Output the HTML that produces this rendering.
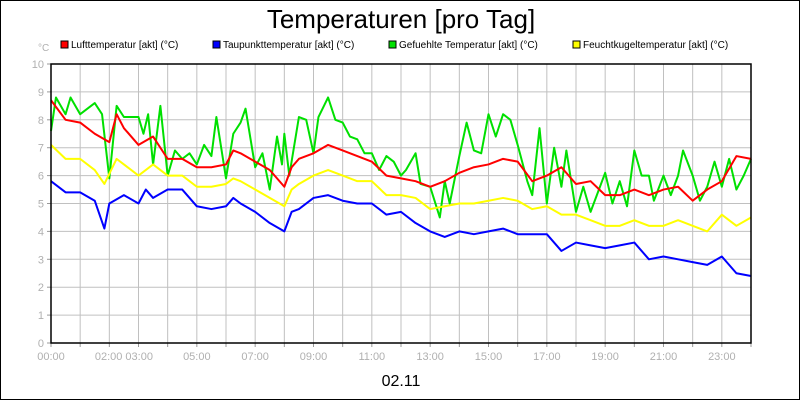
<!DOCTYPE html>
<html><head><meta charset="utf-8"><style>
html,body{margin:0;padding:0;background:#fff}
#wrap{position:relative;width:800px;height:400px;box-sizing:border-box;border:1px solid #000;background:#fff;overflow:hidden}
svg{position:absolute;left:0;top:0}
text{font-family:"Liberation Sans",sans-serif}
</style></head><body>
<div id="wrap">
<svg id="chart" width="800" height="400">
<text x="400" y="27" font-size="26" text-anchor="middle" fill="#000">Temperaturen [pro Tag]</text>
<text x="37" y="50" font-size="10" fill="#b0b0b0">°C</text>
<text x="400" y="385" font-size="16" text-anchor="middle" fill="#000">02.11</text>
<g id="grid"></g><g id="series"></g><g id="axes"></g><g id="legend"></g>
</svg>
</div>
<script>
const yTicks=[0,1,2,3,4,5,6,7,8,9,10];
const xTickLabels=["00:00","02:00 03:00","05:00","07:00","09:00","11:00","13:00","15:00","17:00","19:00","21:00","23:00"];
const xTickHours=[0,2.5,5,7,9,11,13,15,17,19,21,23];
const seriesNames=["Lufttemperatur [akt] (°C)","Taupunkttemperatur [akt] (°C)","Gefuehlte Temperatur [akt] (°C)","Feuchtkugeltemperatur [akt] (°C)"];
const redT=[0,0.5,1,1.5,2,2.25,2.5,3,3.5,4,4.5,5,5.5,6,6.25,6.5,7,7.5,8,8.25,8.5,9,9.5,10,10.5,11,11.5,12,12.5,13,13.5,14,14.5,15,15.5,16,16.5,17,17.5,18,18.5,19,19.5,20,20.5,21,21.5,22,22.5,23,23.5,24];
const redV=[8.7,8.0,7.9,7.5,7.2,8.2,7.7,7.1,7.4,6.6,6.6,6.3,6.3,6.4,6.9,6.8,6.5,6.2,5.6,6.3,6.6,6.8,7.1,6.9,6.7,6.5,6.0,5.9,5.8,5.6,5.8,6.1,6.3,6.4,6.6,6.5,5.8,6.0,6.3,5.7,5.8,5.3,5.3,5.5,5.3,5.5,5.6,5.1,5.5,5.8,6.7,6.6];
const blueT=[0,0.5,1,1.5,1.83,2,2.5,3,3.25,3.5,4,4.5,5,5.5,6,6.25,6.5,7,7.5,8,8.25,8.5,9,9.5,10,10.5,11,11.5,12,12.5,13,13.5,14,14.5,15,15.5,16,16.5,17,17.5,18,18.5,19,19.5,20,20.5,21,21.5,22,22.5,23,23.5,24];
const blueV=[5.8,5.4,5.4,5.1,4.1,5.0,5.3,5.0,5.5,5.2,5.5,5.5,4.9,4.8,4.9,5.2,5.0,4.7,4.3,4.0,4.7,4.8,5.2,5.3,5.1,5.0,5.0,4.6,4.7,4.3,4.0,3.8,4.0,3.9,4.0,4.1,3.9,3.9,3.9,3.3,3.6,3.5,3.4,3.5,3.6,3.0,3.1,3.0,2.9,2.8,3.1,2.5,2.4];
const greenT=[0,0.17,0.5,0.67,1,1.5,1.75,2,2.25,2.5,3,3.17,3.33,3.5,3.75,4,4.25,4.5,4.75,5,5.25,5.5,5.67,6,6.25,6.5,6.67,7,7.25,7.5,7.75,7.92,8,8.17,8.5,8.75,9,9.17,9.5,9.75,10,10.25,10.5,10.75,11,11.25,11.5,11.75,12,12.17,12.5,12.67,13,13.33,13.5,13.67,14,14.25,14.5,14.75,15,15.25,15.5,15.75,16,16.33,16.5,16.75,17,17.25,17.5,17.67,18,18.25,18.5,18.75,19,19.25,19.5,19.75,20,20.25,20.5,20.67,21,21.25,21.5,21.67,22,22.25,22.5,22.75,23,23.25,23.5,23.75,24];
const greenV=[7.6,8.8,8.2,8.8,8.2,8.6,8.2,5.9,8.5,8.1,8.1,7.5,8.2,6.4,8.5,6.0,6.9,6.6,6.8,6.4,7.1,6.7,8.1,5.9,7.5,7.9,8.4,6.3,6.8,5.5,7.4,6.4,7.5,6.0,8.1,8.0,6.8,8.1,8.8,8.0,7.9,7.4,7.3,6.8,6.8,6.2,6.7,6.5,6.0,6.2,6.8,5.7,5.6,4.5,5.8,5.0,6.7,7.9,6.9,6.8,8.2,7.4,8.2,8.0,7.1,5.8,5.3,7.7,5.0,7.0,5.6,6.9,4.7,5.6,4.7,5.4,6.1,5.0,5.8,4.9,6.9,6.0,6.0,5.1,6.0,5.3,6.0,6.9,6.0,5.1,5.6,6.5,5.6,6.6,5.5,6.0,6.6];
const yellowT=[0,0.5,1,1.5,1.83,2.25,2.5,3,3.5,4,4.5,5,5.5,6,6.25,6.5,7,7.5,8,8.25,8.5,9,9.5,10,10.5,11,11.5,12,12.5,13,13.5,14,14.5,15,15.5,16,16.5,17,17.5,18,18.5,19,19.5,20,20.5,21,21.5,22,22.5,23,23.5,24];
const yellowV=[7.1,6.6,6.6,6.2,5.7,6.6,6.4,6.0,6.4,6.0,6.0,5.6,5.6,5.7,5.9,5.8,5.5,5.2,4.9,5.5,5.7,6.0,6.2,6.0,5.8,5.8,5.3,5.3,5.2,4.8,4.9,5.0,5.0,5.1,5.2,5.1,4.8,4.9,4.6,4.6,4.4,4.2,4.2,4.4,4.2,4.2,4.4,4.2,4.0,4.6,4.2,4.5];

const L=50,R=750,T=63,B=342;
const xs=h=>L+(R-L)*h/24;
const ys=v=>B-(B-T)*v/10;
const NS="http://www.w3.org/2000/svg";
function mk(tag,attrs,parent){const e=document.createElementNS(NS,tag);for(const k in attrs)e.setAttribute(k,attrs[k]);parent.appendChild(e);return e;}
const grid=document.getElementById('grid'),axes=document.getElementById('axes'),ser=document.getElementById('series'),leg=document.getElementById('legend');
for(let h=1;h<24;h++){const g=mk('line',{x1:xs(h),x2:xs(h),y1:T,y2:B,stroke:'#c0c0c0','stroke-width':1},grid);

}
for(let h=0;h<=24;h++){const t=mk('line',{x1:xs(h),x2:xs(h),y1:B,y2:B+4,stroke:'#999'},axes);

}
yTicks.forEach(v=>{
 if(v>0&&v<10){const g=mk('line',{x1:L,x2:R,y1:ys(v),y2:ys(v),stroke:'#c0c0c0'},grid);
 
 }
 const tk=mk('line',{x1:L-4,x2:L,y1:ys(v),y2:ys(v),stroke:'#999'},axes);
 
 
 const t=mk('text',{x:L-7,y:ys(v)+4,'font-size':11,'text-anchor':'end',fill:'#b0b0b0'},axes);t.textContent=v;
 
 
});
xTickLabels.forEach((s,i)=>{const t=mk('text',{x:xs(xTickHours[i]),y:B+17,'font-size':11,'text-anchor':'middle',fill:'#b0b0b0'},axes);t.textContent=s;
 
 });
const fr=mk('rect',{x:L,y:T,width:R-L,height:B-T,fill:'none',stroke:'#000','stroke-width':1.5},axes);


const S=[[greenT,greenV,'#00e000','series-gefuehlte'],[yellowT,yellowV,'#ffff00','series-feuchtkugel'],[blueT,blueV,'#0000ff','series-taupunkt'],[redT,redV,'#ff0000','series-luft']];
S.forEach(s=>{const p=mk('polyline',{points:s[0].map((t,i)=>xs(t)+','+ys(s[1][i])).join(' '),fill:'none',stroke:s[2],'stroke-width':2,'stroke-linejoin':'round'},ser);
 
 });
const lx=[60,212,388,572],lc=['#ff0000','#0000ff','#00e000','#ffff00'];
seriesNames.forEach((n,i)=>{
 const g=mk('g',{},leg);
 
 
 mk('rect',{x:lx[i],y:40,width:7,height:7,fill:lc[i],stroke:'#000','stroke-width':1},g);
 const t=mk('text',{x:lx[i]+10,y:47,'font-size':10,fill:'#000'},g);t.textContent=n;
});
</script>
</body></html>
